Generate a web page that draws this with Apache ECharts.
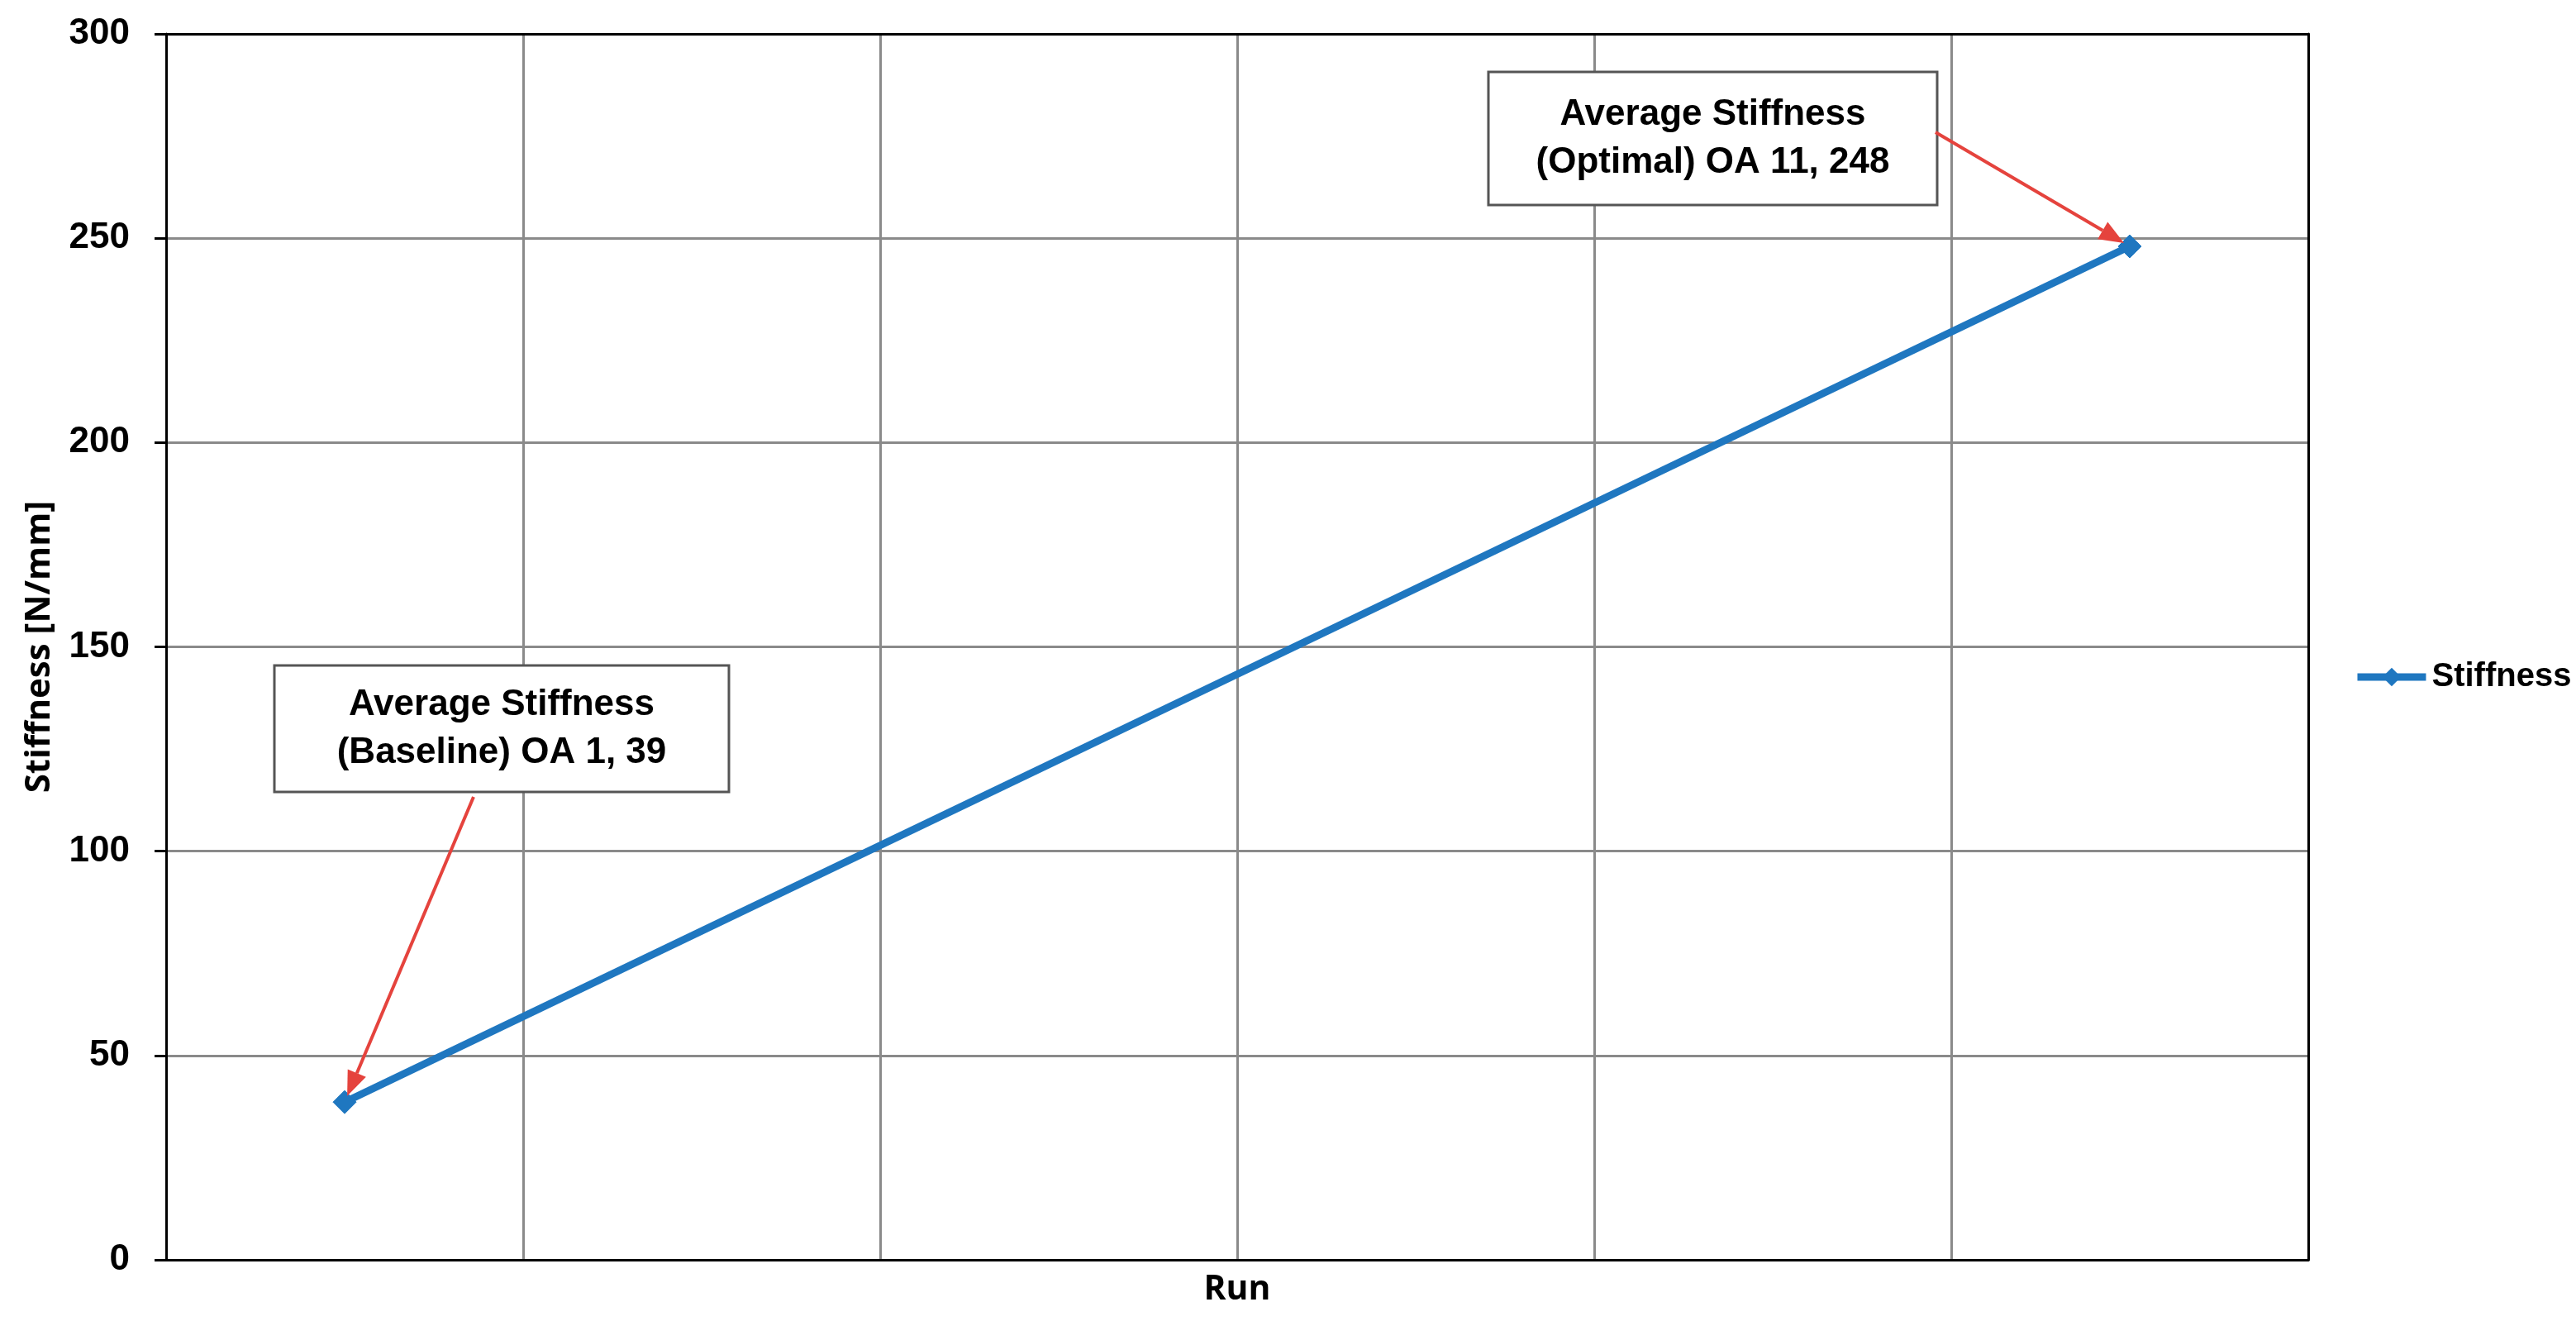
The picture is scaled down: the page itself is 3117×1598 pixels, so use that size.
<!DOCTYPE html>
<html>
<head>
<meta charset="utf-8">
<script src="https://cdn.jsdelivr.net/npm/echarts@6/dist/echarts.min.js"></script>
<style>
html,body{margin:0;padding:0;background:#fff;}
#chart{width:3117px;height:1598px;}
</style>
</head>
<body>
<div id="chart"></div>
<script>
// ---- data ----
var runs = ['OA 1', '', '', '', '', 'OA 11'];
var stiffness = [38.6, null, null, null, null, 248];
var yTicks = [0, 50, 100, 150, 200, 250, 300];
var seriesName = 'Stiffness';
var yTitle = 'Stiffness [N/mm]';
var xTitle = 'Run';
var notes = [
  {idx: 0, lines: ['Average Stiffness', '(Baseline) OA 1, 39']},
  {idx: 5, lines: ['Average Stiffness', '(Optimal) OA 11, 248']}
];

var BLUE = '#1f77c0';
var RED = '#e5433d';
var chart = echarts.init(document.getElementById('chart'));
var frameAxis = {
  axisLine: {show: true, onZero: false, lineStyle: {color: '#000', width: 3}},
  axisTick: {show: false}, axisLabel: {show: false}, splitLine: {show: false}
};
var option = {
  animation: false,
  backgroundColor: '#ffffff',
  grid: {left: 201, right: 324, top: 41, bottom: 74},
  legend: {
    data: [seriesName], left: 2843, top: 794, itemWidth: 83, itemHeight: 28, itemGap: 10,
    lineStyle: {width: 9},
    textStyle: {fontFamily: 'Liberation Sans, Arial', fontWeight: 'bold', fontSize: 40, color: '#000', padding: [0,0,0,2]}
  },
  xAxis: [{
    type: 'category', data: runs, boundaryGap: true,
    name: xTitle, nameLocation: 'middle', nameGap: 16,
    nameTextStyle: {fontFamily: 'Open Sans', fontWeight: 'bold', fontSize: 41, color: '#000', verticalAlign: 'top'},
    axisLine: {onZero: false, lineStyle: {color: '#000', width: 3}},
    axisTick: {show: false},
    axisLabel: {show: false},
    splitLine: {show: true, interval: 0, lineStyle: {color: '#8a8a8a', width: 3}},
    z: 1
  }, Object.assign({type: 'category', data: runs, position: 'top', z: 3}, frameAxis)],
  yAxis: [{
    type: 'value', min: yTicks[0], max: yTicks[yTicks.length - 1], interval: yTicks[1] - yTicks[0],
    name: yTitle, nameLocation: 'middle', nameGap: 132,
    nameTextStyle: {fontFamily: 'Open Sans', fontWeight: 'bold', fontSize: 42, color: '#000'},
    axisLine: {show: true, lineStyle: {color: '#000', width: 3}},
    axisTick: {show: true, length: 14, lineStyle: {color: '#000', width: 3}},
    axisLabel: {margin: 44, fontFamily: 'Liberation Sans, Arial', fontWeight: 'bold', fontSize: 44, color: '#000'},
    splitLine: {show: true, lineStyle: {color: '#8a8a8a', width: 3}},
    z: 1
  }, Object.assign({type: 'value', min: yTicks[0], max: yTicks[yTicks.length - 1], interval: yTicks[1] - yTicks[0], position: 'right', z: 3}, frameAxis)],
  series: [{
    name: seriesName, type: 'line', data: stiffness, connectNulls: true,
    symbol: 'diamond', symbolSize: 28, showAllSymbol: true,
    lineStyle: {color: BLUE, width: 9},
    itemStyle: {color: BLUE, borderColor: BLUE},
    z: 5
  }]
};
chart.setOption(option);

// annotation boxes (layout) and arrows pointing at the data points
var boxes = [
  {x: 332, y: 805, w: 550, h: 153, from: [573, 964]},
  {x: 1801, y: 87, w: 543, h: 161, from: [2342, 160]}
];
var graphics = [];
notes.forEach(function (n, i) {
  var b = boxes[i];
  graphics.push({
    type: 'rect', shape: {x: b.x, y: b.y, width: b.w, height: b.h},
    style: {fill: '#fff', stroke: '#555', lineWidth: 3}, z: 100
  });
  graphics.push({
    type: 'text', x: b.x + b.w / 2, y: b.y + b.h / 2, z: 101,
    style: {text: n.lines.join('\n'), fill: '#000', align: 'center', verticalAlign: 'middle',
      font: 'bold 44px "Liberation Sans", Arial', lineHeight: 58}
  });
  var p = chart.convertToPixel({seriesIndex: 0}, [n.idx, stiffness[n.idx]]);
  var dx = p[0] - b.from[0], dy = p[1] - b.from[1];
  var L = Math.sqrt(dx * dx + dy * dy), ux = dx / L, uy = dy / L;
  var tip = [p[0] - ux * 8, p[1] - uy * 8];
  var headLen = 30, headW = 12;
  var base = [tip[0] - ux * headLen, tip[1] - uy * headLen];
  graphics.push({
    type: 'line', z: 102, shape: {x1: b.from[0], y1: b.from[1], x2: base[0], y2: base[1]},
    style: {stroke: RED, lineWidth: 4}
  });
  graphics.push({
    type: 'polygon', z: 102,
    shape: {points: [tip, [base[0] - uy * headW, base[1] + ux * headW], [base[0] + uy * headW, base[1] - ux * headW]]},
    style: {fill: RED}
  });
});
chart.setOption({graphic: graphics});
</script>
</body>
</html>
